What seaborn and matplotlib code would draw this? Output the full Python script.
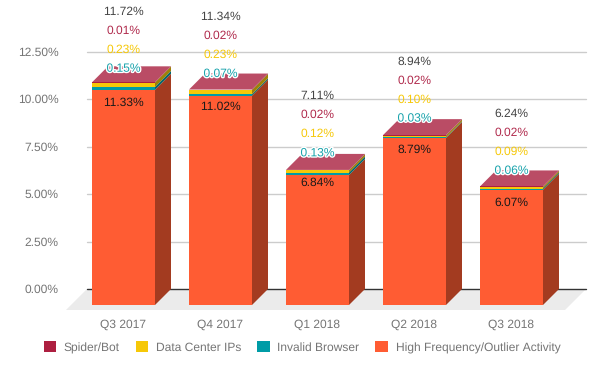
import matplotlib
matplotlib.use("Agg")
import matplotlib.pyplot as plt
import matplotlib.patheffects as pe
from matplotlib.patches import Patch, Polygon
from matplotlib.transforms import ScaledTranslation
import numpy as np
import pandas as pd
import seaborn as sns

quarters = ["Q3 2017", "Q4 2017", "Q1 2018", "Q2 2018", "Q3 2018"]
high_freq = [11.33, 11.02, 6.84, 8.79, 6.07]
invalid_browser = [0.15, 0.07, 0.13, 0.03, 0.06]
data_center = [0.23, 0.23, 0.12, 0.10, 0.09]
spider_bot = [0.01, 0.02, 0.02, 0.02, 0.02]
totals = [11.72, 11.34, 7.11, 8.94, 6.24]

series_names = ["High Frequency/Outlier Activity", "Invalid Browser", "Data Center IPs", "Spider/Bot"]
series_values = [high_freq, invalid_browser, data_center, spider_bot]
colors = ["#FF5C33", "#009CA6", "#F6C808", "#AD1F40"]
side_colors = ["#A33B20", "#00656C", "#9E8108", "#701429"]
top_color = "#BA4C65"

# layout, in pixels of the 604x371 picture
W, H, DPI = 604, 371, 100
AX_L, AX_R, AX_T, AX_B = 87, 586, 51.5, 289
STEP = 97
PX_PER_PCT = 19
DEPTH = 16
FLOOR = 21
stack_label_shift = [-13.7, -15.7, -16.7, -16.7, -15.7]
base_label_shift = [13, 11.5, 8, 12, 13]

sns.set_theme(style="white")
plt.rcParams["font.family"] = ["Liberation Sans", "DejaVu Sans"]
plt.rcParams["text.hinting"] = "no_hinting"
plt.rcParams["text.hinting_factor"] = 1
FS = 8.64
LEGEND_FS = 8.82

fig = plt.figure(figsize=(W / DPI, H / DPI), dpi=DPI)
ax = fig.add_axes([AX_L / W, 1 - AX_B / H, (AX_R - AX_L) / W, (AX_B - AX_T) / H])


def shifted(dx, dy):
    return ax.transData + ScaledTranslation(dx / DPI, dy / DPI, fig.dpi_scale_trans)


front = shifted(-DEPTH, -DEPTH)
df = pd.DataFrame({"quarter": quarters})
bottoms = np.zeros(len(quarters))
for name, vals, col in zip(series_names, series_values, colors):
    df[name] = vals
    sns.barplot(data=df, x="quarter", y=name, bottom=bottoms.copy(), color=col,
                saturation=1, width=63 / STEP, ax=ax, zorder=4, linewidth=0)
    bottoms = bottoms + np.array(vals)

xlim = ((AX_L - 139.5) / STEP, (AX_R - 139.5) / STEP)
ax.set_xlim(*xlim)
ax.set_ylim(0, 12.5)
dx, dy = DEPTH / STEP, DEPTH / PX_PER_PCT

for k, container in enumerate(ax.containers):
    for i, bar in enumerate(container):
        bar.set_transform(front)
        bar.set_clip_on(False)
        x0, w = bar.get_x(), bar.get_width()
        y0, y1 = bar.get_y(), bar.get_y() + bar.get_height()
        ax.add_patch(Polygon([(x0 + w, y0), (x0 + w + dx, y0 + dy), (x0 + w + dx, y1 + dy), (x0 + w, y1)],
                             closed=True, fc=side_colors[k], ec="none", transform=front,
                             clip_on=False, zorder=3))
        if k == len(ax.containers) - 1:
            ax.add_patch(Polygon([(x0, y1), (x0 + w, y1), (x0 + w + dx, y1 + dy), (x0 + dx, y1 + dy)],
                                 closed=True, fc=top_color, ec="none", transform=front,
                                 clip_on=False, zorder=3))

# floor
fx, fy = FLOOR / STEP, FLOOR / PX_PER_PCT
ax.add_patch(Polygon([(xlim[0], 0), (xlim[1], 0), (xlim[1] - fx, -fy), (xlim[0] - fx, -fy)],
                     closed=True, fc="#EBEBEB", ec="none", clip_on=False, zorder=0))

ax.set_yticks([0, 2.5, 5, 7.5, 10, 12.5], [f"{v:.2f}%" for v in [0, 2.5, 5, 7.5, 10, 12.5]])
ax.set_xticks(np.arange(len(quarters)) - dx, quarters)
ax.set_xlabel("")
ax.set_ylabel("")
ax.grid(False)
for v in [2.5, 5, 7.5, 10, 12.5]:
    ax.axhline(v, color="#CCCCCC", lw=1, zorder=1, clip_on=False)
ax.axhline(0, color="#333333", lw=1, zorder=1, clip_on=False)
ax.tick_params(axis="y", length=0, pad=20.5, labelsize=FS, labelcolor="#757575")
ax.tick_params(axis="x", length=0, pad=21.8, labelsize=FS, labelcolor="#757575")
for lab in ax.get_yticklabels():
    lab.set_va("center_baseline")
sns.despine(ax=ax, left=True, bottom=True, top=True, right=True)

# value labels
label_colors = ["#17A2AB", "#F6C808", "#B02A4C", "#444444"]
for i in range(len(quarters)):
    top = totals[i]
    stack_vals = [invalid_browser[i], data_center[i], spider_bot[i], totals[i]]
    for n, (val, col) in enumerate(zip(stack_vals, label_colors)):
        t = ax.annotate(f"{val:.2f}%", xy=(i, top), xycoords=front,
                        xytext=(0, -(stack_label_shift[i] - 19 * n) * 0.72),
                        textcoords="offset points", ha="center", va="center", fontsize=FS, color=col,
                        zorder=6, annotation_clip=False)
        if n == 0:
            t.set_path_effects([pe.withStroke(linewidth=2, foreground="white")])
    ax.annotate(f"{high_freq[i]:.2f}%", xy=(i, high_freq[i]), xycoords=front,
                xytext=(0, -base_label_shift[i] * 0.72), textcoords="offset points",
                ha="center", va="center", fontsize=FS, color="#1A1A1A", zorder=6, annotation_clip=False)

# legend
order = [3, 2, 1, 0]
handles = [Patch(fc=colors[k], ec="none", label=series_names[k]) for k in order]
fig.legend(handles=handles, loc="center", bbox_to_anchor=(302 / W, 1 - 347.5 / H), ncols=4, frameon=False,
           fontsize=LEGEND_FS, labelcolor="#757575", handlelength=1.0, handleheight=1.0, handletextpad=0.65,
           columnspacing=1.3, borderpad=0, borderaxespad=0)

fig.savefig("out.png", dpi=DPI)
